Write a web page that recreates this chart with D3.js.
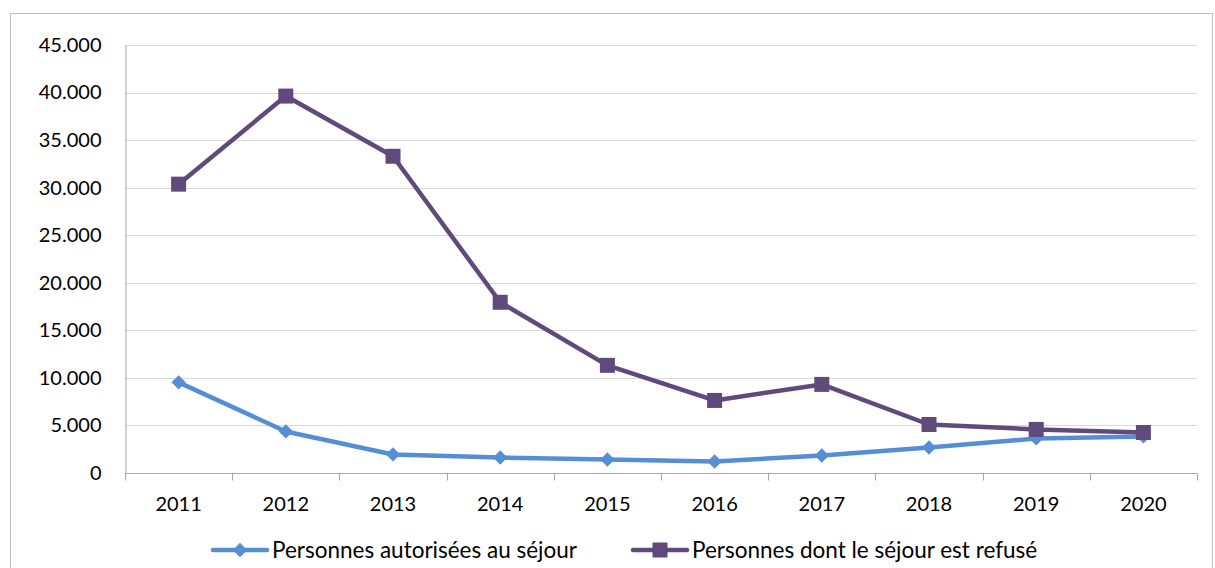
<!DOCTYPE html>
<html lang="fr">
<head>
  <meta charset="UTF-8">
  <title>Personnes autorisées / refusées au séjour</title>
  <script src="https://d3js.org/d3.v7.min.js"></script>
  <style>
    body { margin: 0; background: #fff; font-family: Lato, "Open Sans", sans-serif; }
    .grid line { stroke: #d9d9d9; }
    .axis text { font-size: 20px; fill: #000; font-family: Lato, sans-serif; }
    .legend text { font-size: 22.5px; fill: #000; }
  </style>
</head>
<body>
  <div id="chart"></div>
  <script>
    // Data
    const years = ["2011", "2012", "2013", "2014", "2015", "2016", "2017", "2018", "2019", "2020"];
    const autorisees = [9530, 4370, 1950, 1630, 1420, 1210, 1840, 2680, 3630, 3840];
    const refusees = [30370, 39630, 33300, 17950, 11320, 7630, 9315, 5100, 4580, 4260];
    const yTicks = [0, 5000, 10000, 15000, 20000, 25000, 30000, 35000, 40000, 45000];

    const width = 1215;
    const height = 568;
    const margin = { top: 45, left: 125, right: 18, bottom: 95 };

    const svg = d3.select("#chart")
      .append("svg")
      .attr("width", width)
      .attr("height", height);

    // outer frame
    svg.append("rect")
      .attr("x", 10.5).attr("y", 13.5)
      .attr("width", 1202).attr("height", 570)
      .attr("fill", "none")
      .attr("stroke", "#bfbfbf");

    const x = d3.scaleBand()
      .domain(years)
      .range([margin.left, width - margin.right]);

    const y = d3.scaleLinear()
      .domain([0, 45000])
      .range([height - margin.bottom, margin.top]);

    const fmt = v => d3.format(",")(v).replace(/,/g, ".");

    // gridlines
    svg.append("g")
      .attr("class", "grid")
      .selectAll("line")
      .data(yTicks.slice(1))
      .join("line")
      .attr("x1", margin.left)
      .attr("x2", width - margin.right)
      .attr("y1", d => Math.round(y(d)) + 0.5)
      .attr("y2", d => Math.round(y(d)) + 0.5);

    // y axis
    const yAxis = svg.append("g")
      .attr("class", "axis")
      .attr("transform", `translate(${margin.left + 0.5},0)`)
      .call(d3.axisLeft(y).tickValues(yTicks).tickFormat(fmt).tickSize(0).tickPadding(24));
    yAxis.select(".domain").attr("stroke", "#a6a6a6");

    // x axis with ticks at category boundaries
    const xAxisG = svg.append("g")
      .attr("class", "axis")
      .attr("transform", `translate(0,${Math.round(y(0)) + 0.5})`);
    xAxisG.append("line")
      .attr("x1", margin.left)
      .attr("x2", width - margin.right)
      .attr("stroke", "#a6a6a6");
    xAxisG.selectAll(".tickmark")
      .data(years.concat(["end"]))
      .join("line")
      .attr("class", "tickmark")
      .attr("x1", (d, i) => Math.round(margin.left + i * x.bandwidth()) + 0.5)
      .attr("x2", (d, i) => Math.round(margin.left + i * x.bandwidth()) + 0.5)
      .attr("y1", 0)
      .attr("y2", 7)
      .attr("stroke", "#a6a6a6");
    xAxisG.selectAll(".lbl")
      .data(years)
      .join("text")
      .attr("class", "lbl")
      .attr("x", d => x(d) + x.bandwidth() / 2)
      .attr("y", 37)
      .attr("text-anchor", "middle")
      .text(d => d);

    const cx = d => x(d) + x.bandwidth() / 2;
    const line = d3.line()
      .x((d, i) => cx(years[i]))
      .y(d => y(d));

    const blue = "#558ed5";
    const purple = "#604a7b";

    // series lines
    svg.append("path")
      .datum(autorisees)
      .attr("d", line)
      .attr("fill", "none")
      .attr("stroke", blue)
      .attr("stroke-width", 4.5)
      .attr("stroke-linejoin", "round");

    svg.append("path")
      .datum(refusees)
      .attr("d", line)
      .attr("fill", "none")
      .attr("stroke", purple)
      .attr("stroke-width", 4.5)
      .attr("stroke-linejoin", "round");

    const diamond = d3.symbol().type(d3.symbolDiamond2).size(130);

    svg.append("g")
      .selectAll("path")
      .data(autorisees)
      .join("path")
      .attr("d", diamond)
      .attr("transform", (d, i) => `translate(${cx(years[i])},${y(d)})`)
      .attr("fill", blue);

    svg.append("g")
      .selectAll("rect")
      .data(refusees)
      .join("rect")
      .attr("x", (d, i) => cx(years[i]) - 7.5)
      .attr("y", d => y(d) - 7.5)
      .attr("width", 15)
      .attr("height", 15)
      .attr("fill", purple);

    // legend
    const legend = svg.append("g").attr("class", "legend");
    const legendItems = [
      { name: "Personnes autorisées au séjour", color: blue, x: 213, marker: "diamond" },
      { name: "Personnes dont le séjour est refusé", color: purple, x: 633, marker: "square" }
    ];
    const ly = 550;
    legendItems.forEach(it => {
      legend.append("line")
        .attr("x1", it.x).attr("x2", it.x + 54)
        .attr("y1", ly).attr("y2", ly)
        .attr("stroke", it.color)
        .attr("stroke-width", 4.5)
        .attr("stroke-linecap", "round");
      if (it.marker === "diamond") {
        legend.append("path")
          .attr("d", diamond)
          .attr("transform", `translate(${it.x + 27},${ly})`)
          .attr("fill", it.color);
      } else {
        legend.append("rect")
          .attr("x", it.x + 27 - 7.5).attr("y", ly - 7.5)
          .attr("width", 15).attr("height", 15)
          .attr("fill", it.color);
      }
      legend.append("text")
        .attr("x", it.x + 59)
        .attr("y", ly + 8)
        .text(it.name);
    });
  </script>
</body>
</html>
